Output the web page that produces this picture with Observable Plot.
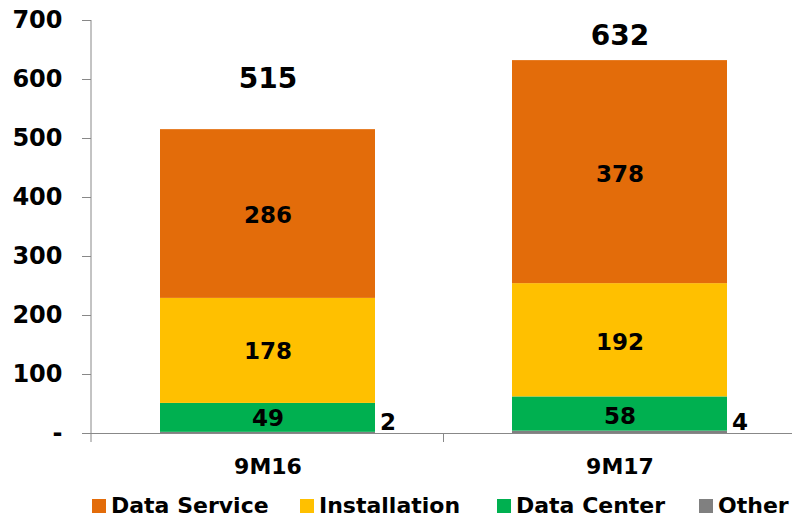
<!DOCTYPE html>
<html><head><meta charset="utf-8">
<script src="https://cdn.jsdelivr.net/npm/d3@7"></script>
<script src="https://cdn.jsdelivr.net/npm/@observablehq/plot@0.6"></script>
<style>
body{margin:0;background:#fff;font-family:"DejaVu Sans",Verdana,sans-serif;}
#legend{display:flex;justify-content:flex-start;font-weight:bold;font-size:22px;margin-left:92px;line-height:32px;}
#legend span.item{display:flex;align-items:center;gap:5px;white-space:nowrap;}
#legend span.sw{display:inline-block;width:14px;height:14px;}
</style></head><body>
<div id="chart"></div>
<div id="legend"></div>
<script>
const periods = ["9M16", "9M17"];
const series = ["Other", "Data Center", "Installation", "Data Service"];
const colors = ["#808080", "#00B050", "#FFC000", "#E36C0A"];
const other = [2, 4];
const dataCenter = [49, 58];
const installation = [178, 192];
const dataService = [286, 378];
const totals = [515, 632];
const yTicks = [0, 100, 200, 300, 400, 500, 600, 700];

const values = [other, dataCenter, installation, dataService];
const rows = [];
periods.forEach((p, i) => series.forEach((s, j) => rows.push({period: p, series: s, value: values[j][i]})));
const totalRows = periods.map((p, i) => ({period: p, total: totals[i]}));
const inside = rows.filter(d => d.series !== "Other");
const outside = rows.filter(d => d.series === "Other");

const chart = Plot.plot({
  width: 792, height: 490,
  marginLeft: 91, marginRight: 0, marginTop: 20, marginBottom: 57,
  style: {fontFamily: "DejaVu Sans, Verdana, sans-serif", fontWeight: "bold", fontSize: "22px", color: "#000"},
  x: {domain: periods, range: [91, 795], paddingInner: 0.39, paddingOuter: 0.195, label: null},
  y: {domain: [0, 700], label: null},
  color: {domain: series, range: colors},
  marks: [
    Plot.axisX({tickSize: 0, tickPadding: 25, fontSize: 22, label: null}),
    Plot.axisY({ticks: yTicks, tickFormat: d => d === 0 ? "-" : d, tickSize: 9, tickPadding: 20, stroke: "#888", label: null, fontSize: 24}),
    Plot.barY(rows, Plot.stackY({x: "period", y: "value", fill: "series", order: series})),
    Plot.text(inside, Plot.stackY({x: "period", y: "value", z: "series", order: series, text: "value", fontSize: 23, fill: "#000"})),
    Plot.text(outside, {x: "period", y: 0, text: "value", dx: 120, dy: -11, fontSize: 23, fill: "#000"}),
    Plot.text(totalRows.slice(0, 1), {x: "period", y: "total", text: "total", dy: -51, fontSize: 28, fill: "#000"}),
    Plot.text(totalRows.slice(1), {x: "period", y: "total", text: "total", dy: -25, fontSize: 28, fill: "#000"}),
    Plot.ruleY([0], {stroke: "#888"}),
  ]
});
const svg = d3.select(chart);
const xs = chart.scale("x"), ys = chart.scale("y");
const y0 = ys.apply(0), yTop = ys.apply(700);
const sep = (xs.apply(periods[0]) + xs.bandwidth + xs.apply(periods[1])) / 2;
const axisX = 91;
svg.append("line").attr("x1", axisX).attr("x2", axisX).attr("y1", yTop).attr("y2", y0 + 9).attr("stroke", "#888");
svg.append("line").attr("x1", sep).attr("x2", sep).attr("y1", y0).attr("y2", y0 + 9).attr("stroke", "#888");
document.getElementById("chart").appendChild(chart);

const legendOrder = ["Data Service", "Installation", "Data Center", "Other"];
const legendWidths = [208, 197, 202, null];
const lg = document.getElementById("legend");
legendOrder.forEach((s, i) => {
  const it = document.createElement("span"); it.className = "item";
  if (legendWidths[i]) it.style.width = legendWidths[i] + "px";
  const sw = document.createElement("span"); sw.className = "sw"; sw.style.background = colors[series.indexOf(s)];
  it.appendChild(sw); it.appendChild(document.createTextNode(s)); lg.appendChild(it);
});
</script></body></html>
